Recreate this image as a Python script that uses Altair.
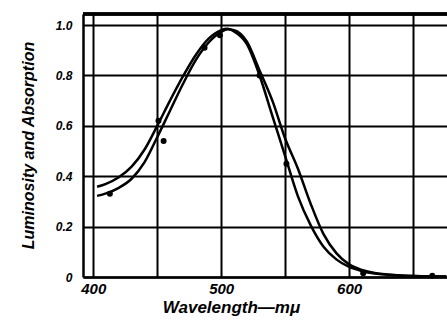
import altair as alt
import pandas as pd

# Curve A (higher at short wavelengths)
wl_a = [403, 410, 420, 430, 440, 450, 460, 470, 480, 490, 500, 505, 510, 520, 530, 540, 550, 560, 570, 580, 590, 600, 610, 620, 630, 640, 650, 660, 670, 676]
val_a = [0.358, 0.37, 0.396, 0.438, 0.505, 0.60, 0.70, 0.795, 0.88, 0.945, 0.98, 0.985, 0.975, 0.925, 0.80, 0.64, 0.48, 0.32, 0.205, 0.12, 0.07, 0.04, 0.024, 0.014, 0.009, 0.006, 0.004, 0.003, 0.002, 0.002]

# Curve B (lower at short wavelengths, outer on the long side)
wl_b = [403, 410, 420, 430, 440, 450, 460, 470, 480, 490, 500, 505, 510, 520, 530, 540, 550, 560, 570, 580, 590, 600, 610, 620, 630, 640, 650, 660, 670, 676]
val_b = [0.322, 0.332, 0.354, 0.39, 0.455, 0.555, 0.66, 0.765, 0.86, 0.93, 0.973, 0.983, 0.98, 0.935, 0.82, 0.70, 0.55, 0.43, 0.29, 0.17, 0.095, 0.05, 0.028, 0.016, 0.01, 0.006, 0.004, 0.003, 0.002, 0.002]

# Measured points
dot_wl = [413, 451, 455, 487, 499, 530, 551, 611, 665]
dot_val = [0.33, 0.62, 0.54, 0.91, 0.96, 0.80, 0.45, 0.015, 0.005]

x_ticks = [400, 450, 500, 550, 600, 650]
y_ticks = [0, 0.2, 0.4, 0.6, 0.8, 1.0]

curves = pd.concat([
    pd.DataFrame({"wl": wl_a, "v": val_a, "series": "A"}),
    pd.DataFrame({"wl": wl_b, "v": val_b, "series": "B"}),
])
dots = pd.DataFrame({"wl": dot_wl, "v": dot_val})

FONT = "Liberation Sans"
W, H = 364, 263

xs = alt.Scale(domain=[392, 676.5], nice=False, zero=False)
ys = alt.Scale(domain=[0, 1.044], nice=False, zero=False)

x_enc = alt.X(
    "wl:Q", scale=xs,
    axis=alt.Axis(
        values=x_ticks, grid=True, gridColor="black", gridWidth=2, gridOpacity=1,
        labelExpr="(datum.value % 100 == 0) ? datum.label : ''",
        ticks=False, domain=True, domainColor="black", domainWidth=2.5,
        labelFont=FONT, labelFontSize=15, labelFontStyle="italic", labelFontWeight="bold",
        labelColor="black", labelPadding=4,
        title="Wavelength—mμ", titleFont=FONT, titleFontSize=17, titleFontStyle="italic",
        titleFontWeight="bold", titleColor="black", titleX=148, titleY=22,
        titleBaseline="top",
    ),
)
y_enc = alt.Y(
    "v:Q", scale=ys,
    axis=alt.Axis(
        values=y_ticks, grid=True, gridColor="black", gridWidth=2, gridOpacity=1,
        labelExpr="datum.value == 0 ? '0' : format(datum.value, '.1f')",
        ticks=False, domain=True, domainColor="black", domainWidth=2.5,
        labelFont=FONT, labelFontSize=12, labelFontStyle="italic", labelFontWeight="bold",
        labelColor="black", labelPadding=11,
        title="Luminosity and Absorption", titleFont=FONT, titleFontSize=16,
        titleFontStyle="italic", titleFontWeight="bold", titleColor="black",
        titleX=-55, titleY=131, titleAngle=270, titleBaseline="middle",
    ),
)

lines = alt.Chart(curves).mark_line(
    color="black", strokeWidth=2.5, interpolate="monotone"
).encode(x=x_enc, y=y_enc, detail="series:N")

pts = alt.Chart(dots).mark_circle(color="black", opacity=1, size=36).encode(
    x=alt.X("wl:Q", scale=xs), y=alt.Y("v:Q", scale=ys)
)

top_border = alt.Chart(dots).mark_rule(color="black", strokeWidth=2.5).encode(
    x=alt.value(0), x2=alt.value(W), y=alt.value(0)
)

chart = alt.layer(lines, pts, top_border).properties(
    width=W, height=H,
    padding={"left": 83, "top": 14, "right": 0, "bottom": 46},
    autosize=alt.AutoSizeParams(type="none"),
    background="white",
).configure_view(stroke=None)

chart.save("out.html", embed_options={"renderer": "svg", "actions": False})
